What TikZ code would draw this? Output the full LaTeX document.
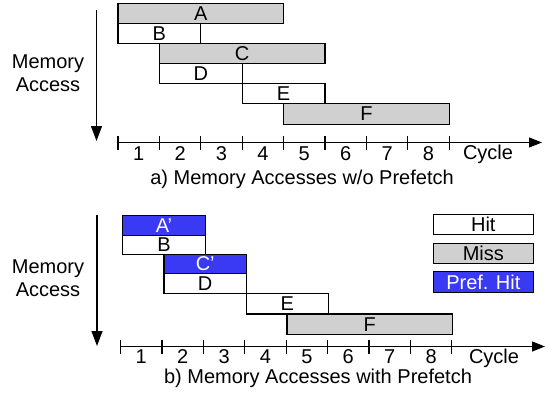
\documentclass[tikz,border=0pt]{standalone}
\usepackage{fontspec}
\setmainfont{Liberation Sans}
\usetikzlibrary{arrows.meta}
\definecolor{missgray}{RGB}{208,208,208}
\definecolor{prefblue}{RGB}{58,58,245}
\begin{document}
\begin{tikzpicture}[x=1pt,y=-1pt,
  font=\fontsize{20}{22.5}\selectfont,
  cell/.style={draw=black, line width=1.2pt, inner sep=0pt, outer sep=0pt, anchor=north west, minimum height=20pt},
  hitbox/.style={cell, fill=white},
  missbox/.style={cell, fill=missgray},
  prefbox/.style={cell, fill=prefblue, text=white},
  axisline/.style={line width=1.2pt, -{Triangle[length=13pt,width=10pt]}},
  downarrow/.style={line width=1.2pt, -{Triangle[length=15pt,width=11pt]}},
  tickmark/.style={line width=1.2pt},
  lbl/.style={inner sep=0pt, align=center}]
\useasboundingbox (0,0) rectangle (545,394);
% ---------- top (a) ----------
\node[missbox, minimum width=165.6] (A) at (118,3.3) {A};
\node[hitbox, minimum width=82.8] (B) at (118,23.4) {B};
\node[missbox, minimum width=165.6] (C) at (159.4,43.5) {C};
\node[hitbox, minimum width=82.8] (D) at (159.4,63.6) {D};
\node[hitbox, minimum width=82.8] (E) at (242.2,83.7) {E};
\node[missbox, minimum width=165.6, minimum height=20.6] (F) at (283.6,103.6) {F};
\coordinate (va1) at (96.5,10);
\coordinate (vb1) at (96.5,141);
\draw[downarrow] (va1) -- (vb1);
\node[lbl] (mem1) at (48,73) {Memory\\Access};
\coordinate (ax1s) at (118,142.5);
\coordinate (ax1e) at (542,142.5);
\draw[axisline] (ax1s) -- (ax1e);
\foreach \k in {0,...,8} {
  \coordinate (t1\k) at ({118+41.4*\k},142.5);
  \draw[tickmark] ([yshift=-7pt]t1\k) -- ([yshift=7pt]t1\k);
}
\foreach \k in {1,...,8} {
  \node[lbl] (n1\k) at ({118+41.4*(\k-0.5)},153.5) {\k};
}
\node[lbl] (cyc1) at (488,154.5) {Cycle};
\node[lbl] (cap1) at (302,179) {a) Memory Accesses w/o Prefetch};
% ---------- bottom (b) ----------
\node[prefbox, minimum width=83.4, minimum height=19.8] (A2) at (122.3,215.7) {A’};
\node[hitbox, minimum width=83.4, minimum height=18.6] (B2) at (122.3,235.5) {B};
\node[prefbox, minimum width=82.4, minimum height=19.4] (C2) at (164,254.1) {C’};
\node[hitbox, minimum width=82.4, minimum height=20] (D2) at (164,273.5) {D};
\node[hitbox, minimum width=82, minimum height=20.5] (E2) at (246.4,293.5) {E};
\node[missbox, minimum width=165.3, minimum height=20.5] (F2) at (287,314) {F};
\coordinate (va2) at (97,215);
\coordinate (vb2) at (97,346);
\draw[downarrow] (va2) -- (vb2);
\node[lbl] (mem2) at (48,278) {Memory\\Access};
\coordinate (ax2s) at (120.6,346.5);
\coordinate (ax2e) at (545,346.5);
\draw[axisline] (ax2s) -- (ax2e);
\foreach \k in {0,...,8} {
  \coordinate (t2\k) at ({120.6+41.4*\k},346.5);
  \draw[tickmark] ([yshift=-7pt]t2\k) -- ([yshift=7pt]t2\k);
}
\foreach \k in {1,...,8} {
  \node[lbl] (n2\k) at ({120.6+41.4*(\k-0.5)},356.5) {\k};
}
\node[lbl] (cyc2) at (494,358.5) {Cycle};
\node[lbl] (cap2) at (318,378.5) {b) Memory Accesses with Prefetch};
% legend
\node[hitbox, minimum width=100, minimum height=20.5] (lhit) at (433.3,214.3) {Hit};
\node[missbox, minimum width=100, minimum height=20] (lmiss) at (433.3,243.3) {Miss};
\node[prefbox, minimum width=100, minimum height=20.5] (lpref) at (433.3,271.7) {Pref. Hit};
\end{tikzpicture}
\end{document}
